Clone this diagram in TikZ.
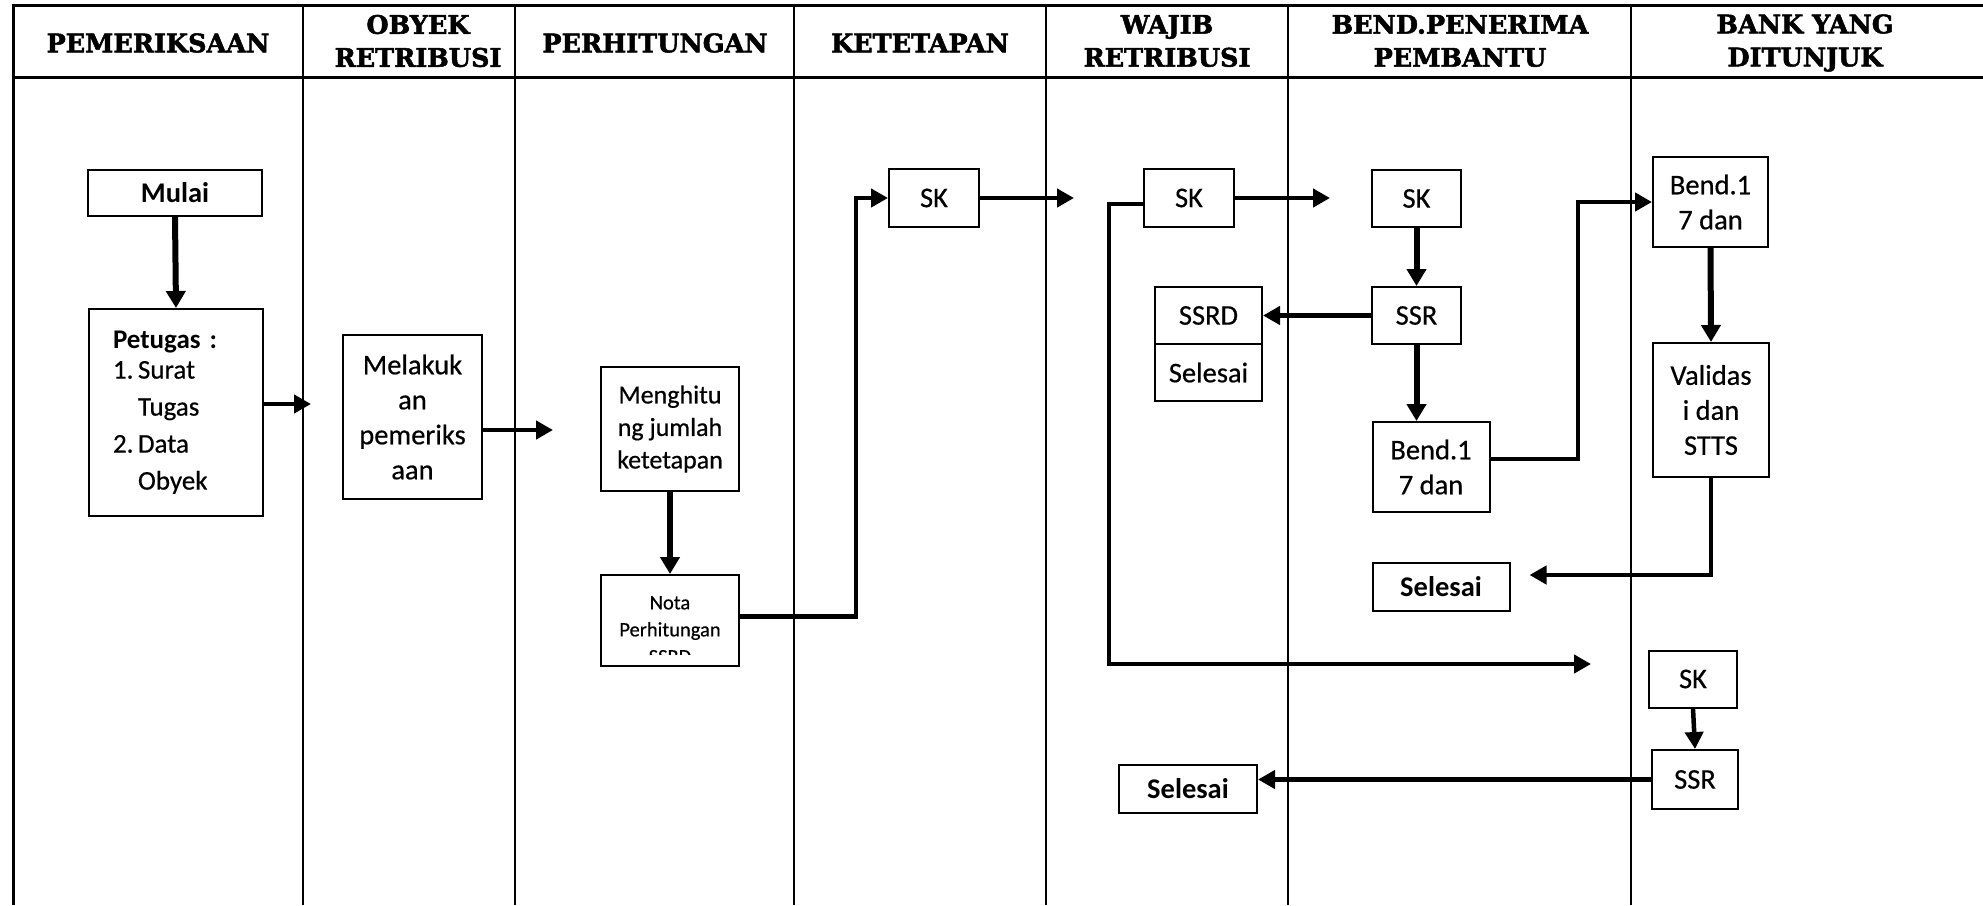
\documentclass[tikz,border=0pt]{standalone}
\usepackage{fontspec}
\setmainfont{Carlito}[UprightFeatures={FakeBold=0.5}]
\newfontfamily\headfont{DejaVu Serif}[BoldFeatures={FakeBold=2}]
\usetikzlibrary{arrows.meta}
\newcommand\boxfont{\fontsize{28.5}{35}\selectfont}
\newcommand\listfont{\fontsize{27}{37}\selectfont}
\newcommand\calcfont{\fontsize{26}{32.5}\selectfont}
\newcommand\notafont{\fontsize{20.5}{27}\selectfont}
\newcommand\numbox[1]{\makebox[25pt][l]{#1}}
\begin{document}
\begin{tikzpicture}[x=1pt,y=-1pt,
		box/.style={draw, line width=2pt, align=center, inner sep=0pt, font=\boxfont},
		head/.style={align=center, inner sep=0pt, font=\headfont\bfseries\fontsize{25.5}{33}\selectfont},
		arr/.style={line width=4.5pt, -{Triangle[length=17pt,width=18pt]}},
		arrthick/.style={line width=6pt, -{Triangle[length=17pt,width=19pt]}},
		lane/.style={line width=1.6pt}]
	\useasboundingbox (0,0) rectangle (1983,905);
	\draw[line width=3pt] (1990,5) -- (13,5) -- (13,905);
	\draw[line width=3pt] (13,77) -- (1990,77);
	\foreach \x in {303,515,794,1046,1288,1631} {
		\draw[lane] (\x,5) -- (\x,905);
		\draw[line width=2.6pt] (\x,5) -- (\x,77);
	}
	\node[head] (hpemeriksaan) at (158,43) {PEMERIKSAAN};
	\node[head] (hobyek) at (418,41) {OBYEK\\RETRIBUSI};
	\node[head] (hperhitungan) at (655,43) {PERHITUNGAN};
	\node[head] (hketetapan) at (920,43) {KETETAPAN};
	\node[head] (hwajib) at (1167,41) {WAJIB\\RETRIBUSI};
	\node[head] (hbendahara) at (1460,41) {BEND.PENERIMA\\PEMBANTU};
	\node[head] (hbank) at (1805,43) {BANK YANG\\DITUNJUK};

	\node[box, minimum width=174pt, minimum height=46pt, font=\boxfont\bfseries] (mulai) at (175,193) {Mulai};
	\node[box, align=left, text width=126pt, inner xsep=24pt, minimum height=207pt, font=\listfont] (petugas) at (176,412.5)
		{\textbf{Petugas :}\\[-7pt]\numbox{1.}Surat\\\numbox{}Tugas\\\numbox{2.}Data\\\numbox{}Obyek};
	\node[box, minimum width=139pt, minimum height=164pt] (melakukan) at (412.5,417) {Melakuk\\an\\pemeriks\\aan};
	\node[box, minimum width=138pt, minimum height=124pt, font=\calcfont] (menghitung) at (670,429) {Menghitu\\ng jumlah\\ketetapan};
	\node[box, minimum width=138pt, minimum height=91pt] (nota) at (670,620.5) {};
	\begin{scope}
		\clip ([yshift=13pt]nota.south west) rectangle (nota.north east);
		\node[font=\notafont, align=center, inner sep=0pt, anchor=north] (notatext) at (670,596) {Nota\\Perhitungan\\SSRD};
	\end{scope}
	\node[box, minimum width=90pt, minimum height=58pt] (skketetapan) at (934,198) {SK};
	\node[box, minimum width=90pt, minimum height=58pt] (skwajib) at (1189,198) {SK};
	\node[box, minimum width=107pt, minimum height=57pt] (ssrd) at (1208.5,315.5) {SSRD};
	\node[box, minimum width=107pt, minimum height=57pt] (selesaissrd) at (1208.5,372.5) {Selesai};
	\node[box, minimum width=89pt, minimum height=57pt] (skbend) at (1416.5,198.5) {SK};
	\node[box, minimum width=89pt, minimum height=57pt] (ssrbend) at (1416.5,315.5) {SSR};
	\node[box, minimum width=117pt, minimum height=90pt] (bendbend) at (1431,467) {Bend.1\\7 dan};
	\node[box, minimum width=137pt, minimum height=48pt, font=\boxfont\bfseries] (selesaibend) at (1441,587) {Selesai};
	\node[box, minimum width=115pt, minimum height=90pt] (bendbank) at (1710.5,202) {Bend.1\\7 dan};
	\node[box, minimum width=116pt, minimum height=134pt] (validasi) at (1711,410) {Validas\\i dan\\STTS};
	\node[box, minimum width=88pt, minimum height=57pt] (skbank) at (1693,679) {SK};
	\node[box, minimum width=86pt, minimum height=59pt] (ssrbank) at (1695,779.5) {SSR};
	\node[box, minimum width=138pt, minimum height=48pt, font=\boxfont\bfseries] (selesaiwajib) at (1188,789) {Selesai};

	\coordinate (endpetugas) at (311,404);
	\coordinate (endmelakukan) at (553,430);
	\coordinate (endskketetapan) at (1074,198);
	\coordinate (endskwajib) at (1330,198);
	\coordinate (endwajib) at (1591,664);

	\draw[arrthick] (mulai.south) -- (petugas.north);
	\draw[arr] (petugas.east |- endpetugas) -- (endpetugas);
	\draw[arr] (melakukan.east |- endmelakukan) -- (endmelakukan);
	\draw[arrthick] (menghitung.south) -- (nota.north);
	\draw[arr] ([yshift=4pt]nota.east) -| ([xshift=-32pt]skketetapan.west) -- (skketetapan.west);
	\draw[arr] (skketetapan.east) -- (endskketetapan);
	\draw[arr] (skwajib.east) -- (endskwajib);
	\draw[arr] ([yshift=-6pt]skwajib.west) -| ([xshift=-34pt]skwajib.west |- endwajib) -- (endwajib);
	\draw[arrthick] (skbend.south) -- (ssrbend.north);
	\draw[arr] (ssrbend.west) -- (ssrbend.west -| ssrd.east);
	\draw[arrthick] (ssrbend.south) -- (ssrbend.south |- bendbend.north);
	\draw[arr] ([yshift=8pt]bendbend.east) -| ([xshift=-74pt]bendbank.west) -- (bendbank.west);
	\draw[arrthick] (bendbank.south) -- (validasi.north);
	\draw[arr] (validasi.south) |- ([xshift=19pt,yshift=12pt]selesaibend.east);
	\draw[arr] (skbank.south) -- (ssrbank.north);
	\draw[arr] (ssrbank.west) -- (ssrbank.west -| selesaiwajib.east);
\end{tikzpicture}
\end{document}
